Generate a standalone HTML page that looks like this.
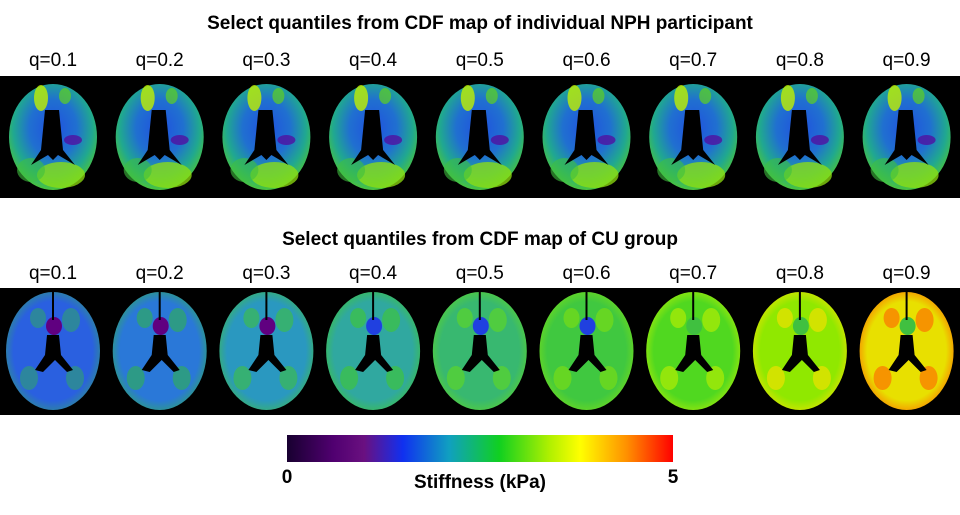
<!DOCTYPE html><html><head><style>
body{margin:0;background:#fff;width:960px;height:510px;overflow:hidden;font-family:"Liberation Sans",Arial,sans-serif}
</style></head><body>
<svg id="s" width="960" height="510" xmlns="http://www.w3.org/2000/svg" font-family="Liberation Sans, Arial, sans-serif">
<defs>
<linearGradient id="cb" x1="0" x2="1" y1="0" y2="0">
<stop offset="0" stop-color="#180030"/><stop offset="0.12" stop-color="#500070"/><stop offset="0.2" stop-color="#6a1080"/>
<stop offset="0.3" stop-color="#1030f0"/><stop offset="0.42" stop-color="#10a0c0"/><stop offset="0.55" stop-color="#10d020"/>
<stop offset="0.68" stop-color="#b0f000"/><stop offset="0.76" stop-color="#ffff00"/><stop offset="0.88" stop-color="#ff9000"/><stop offset="1" stop-color="#ff0000"/>
</linearGradient>
</defs>
<text x="480" y="29" text-anchor="middle" font-size="19" font-weight="bold">Select quantiles from CDF map of individual NPH participant</text>
<text x="480" y="245" text-anchor="middle" font-size="19" font-weight="bold">Select quantiles from CDF map of CU group</text>
<rect x="0" y="76" width="960" height="122" fill="#000"/>
<rect x="0" y="288" width="960" height="127" fill="#000"/>
<g id="g"></g>
<rect x="287" y="435" width="386" height="27" fill="url(#cb)"/>
<text x="287" y="483" text-anchor="middle" font-size="19" font-weight="bold">0</text>
<text x="673" y="483" text-anchor="middle" font-size="19" font-weight="bold">5</text>
<text x="480" y="488" text-anchor="middle" font-size="19" font-weight="bold">Stiffness (kPa)</text>
</svg>
<script>
var g=document.getElementById('g'),h='';
var bot=[['#2a60e0','#30a070'],['#2a78d8','#30b050'],['#2a98c0','#40c040'],['#30a8a0','#40c830'],['#38b870','#60d820'],['#40c840','#80e010'],['#50d820','#c0f000'],['#90e800','#ffe000'],['#e8e000','#ff6000']];
for(var i=0;i<9;i++){
 var cx=53+i*106.7;
 h+='<text x="'+cx+'" y="66" text-anchor="middle" font-size="19">q=0.'+(i+1)+'</text>';
 h+='<text x="'+cx+'" y="279" text-anchor="middle" font-size="19">q=0.'+(i+1)+'</text>';
 h+='<defs><radialGradient id="t'+i+'" cx="0.5" cy="0.42" r="0.6"><stop offset="0" stop-color="#2050e0"/><stop offset="0.45" stop-color="#2070d0"/><stop offset="0.75" stop-color="#20a890"/><stop offset="1" stop-color="#50c830"/></radialGradient>';
 h+='<radialGradient id="b'+i+'" cx="0.5" cy="0.5" r="0.6"><stop offset="0" stop-color="'+bot[i][0]+'"/><stop offset="0.7" stop-color="'+bot[i][0]+'"/><stop offset="1" stop-color="'+bot[i][1]+'"/></radialGradient></defs>';
 h+='<ellipse cx="'+cx+'" cy="137" rx="44" ry="53" fill="url(#t'+i+')"/>';
 h+='<ellipse cx="'+(cx+8)+'" cy="175" rx="24" ry="13" fill="#90e010" opacity="0.75"/>';
 h+='<ellipse cx="'+(cx-22)+'" cy="170" rx="14" ry="12" fill="#40c040" opacity="0.6"/>';
 h+='<ellipse cx="'+(cx-12)+'" cy="98" rx="7" ry="13" fill="#c0f000" opacity="0.8"/>';
 h+='<ellipse cx="'+(cx+12)+'" cy="96" rx="6" ry="8" fill="#60d020" opacity="0.7"/>';
 h+='<ellipse cx="'+(cx+20)+'" cy="140" rx="9" ry="5" fill="#5010a0" opacity="0.8"/>';
 h+='<path d="M'+(cx-8)+' 110 L'+(cx+6)+' 110 L'+(cx+10)+' 150 L'+(cx+22)+' 165 L'+(cx+5)+' 155 L'+(cx)+' 160 L'+(cx-5)+' 155 L'+(cx-22)+' 165 L'+(cx-12)+' 150 Z" fill="#000"/>';
 h+='<ellipse cx="'+cx+'" cy="351" rx="47" ry="59" fill="url(#b'+i+')"/>';
 h+='<ellipse cx="'+(cx-15)+'" cy="318" rx="8" ry="10" fill="'+bot[i][1]+'" opacity="0.6"/>';
 h+='<ellipse cx="'+(cx+18)+'" cy="320" rx="9" ry="12" fill="'+bot[i][1]+'" opacity="0.6"/>';
 h+='<ellipse cx="'+(cx-24)+'" cy="378" rx="9" ry="12" fill="'+bot[i][1]+'" opacity="0.6"/>';
 h+='<ellipse cx="'+(cx+22)+'" cy="378" rx="9" ry="12" fill="'+bot[i][1]+'" opacity="0.6"/>';
 h+='<ellipse cx="'+(cx+1)+'" cy="326" rx="8" ry="9" fill="'+(i<3?'#600080':i<6?'#2040e0':'#40c040')+'"/>';
 h+='<path d="M'+(cx-6)+' 335 L'+(cx+6)+' 335 L'+(cx+8)+' 355 L'+(cx+20)+' 370 L'+(cx+14)+' 372 L'+(cx+2)+' 360 L'+(cx-10)+' 372 L'+(cx-18)+' 370 L'+(cx-8)+' 355 Z" fill="#000"/>';
 h+='<rect x="'+(cx-1)+'" y="292" width="2" height="28" fill="#000"/>';
}
g.innerHTML=h;
</script>
</body></html>
